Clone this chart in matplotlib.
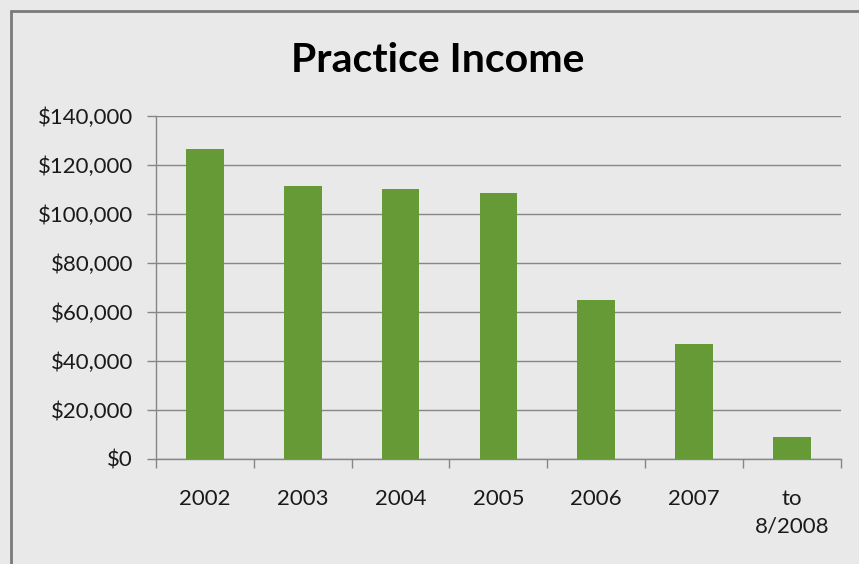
import matplotlib
matplotlib.use("Agg")
import matplotlib.pyplot as plt
import matplotlib.patches as mpatches
import numpy as np

# Data
categories = ["2002", "2003", "2004", "2005", "2006", "2007", "to\n8/2008"]
income = [126400, 111400, 110200, 108700, 64700, 46850, 8750]
yticks = [0, 20000, 40000, 60000, 80000, 100000, 120000, 140000]

BG = "#e9e9e9"
BAR = "#669a36"
GRID = "#868686"

plt.rcParams["font.family"] = ["Lato", "DejaVu Sans"]

fig = plt.figure(figsize=(8.59, 5.64), dpi=100)
fig.patch.set_facecolor(BG)
ax = fig.add_axes([156 / 859, 1 - 458.7 / 564, (840.7 - 156) / 859, (458.7 - 116) / 564])
ax.set_facecolor(BG)

# outer chart frame (only left/top edges fall inside the picture)
frame = mpatches.Rectangle((11 / 859, -0.1), 1.2, 1 - 11 / 564 + 0.1,
                           transform=fig.transFigure, fill=False,
                           edgecolor="#7a7a7a", linewidth=2.0, zorder=0)
fig.patches.append(frame)

x = np.arange(len(categories))
ax.bar(x, income, width=0.385, color=BAR, zorder=3)

ax.set_xlim(-0.5, len(categories) - 0.5)
ax.set_ylim(0, 140000)
ax.set_yticks(yticks)
ax.set_yticklabels([f"${v:,}" for v in yticks], fontsize=16, color="#1a1a1a")
ax.set_xticks(x)
ax.set_xticklabels(categories, fontsize=16, color="#1a1a1a", linespacing=1.5)
ax.xaxis.set_ticks_position("none")
ax.tick_params(axis="x", pad=18)
ax.tick_params(axis="y", length=6.5, width=1, color=GRID, pad=10)

# category boundary ticks along the x axis
ax.set_xticks(np.arange(len(categories) + 1) - 0.5, minor=True)
ax.tick_params(axis="x", which="minor", length=6.5, width=1, color=GRID, direction="out")
ax.xaxis.set_tick_params(which="minor", bottom=True)

ax.yaxis.grid(True, color=GRID, linewidth=1)
ax.set_axisbelow(True)
for s in ["top", "right"]:
    ax.spines[s].set_visible(False)
for s in ["left", "bottom"]:
    ax.spines[s].set_color(GRID)
    ax.spines[s].set_linewidth(1)

fig.text(438 / 859, 1 - 61 / 564, "Practice Income", ha="center", va="center",
         fontsize=29.5, fontweight="bold", color="black")

fig.savefig("out.png", dpi=100, facecolor=fig.get_facecolor())
